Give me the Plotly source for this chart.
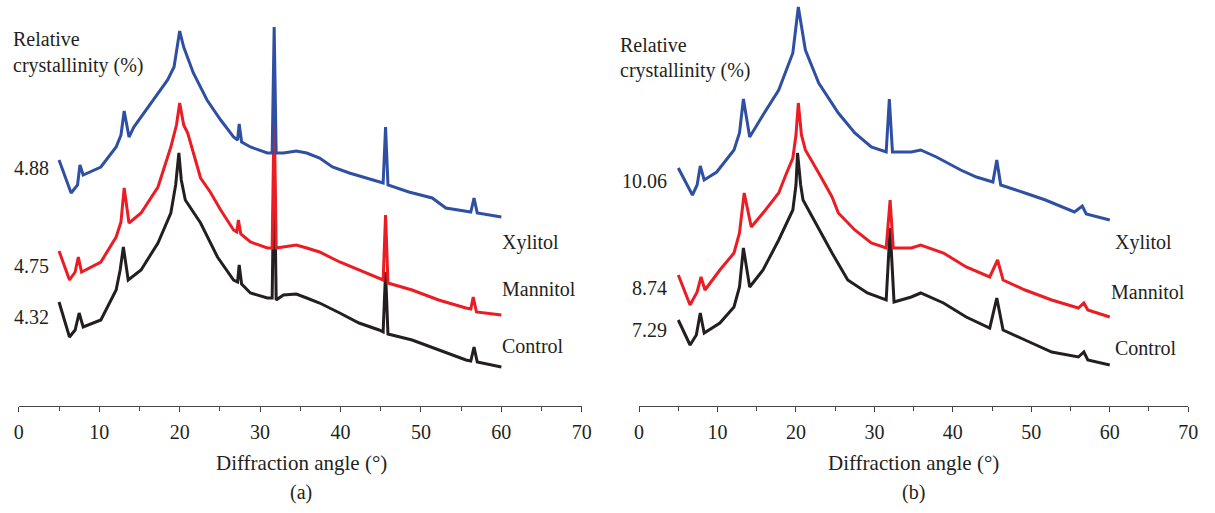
import plotly.graph_objects as go

# ---------------- Data (diffraction angle in degrees, intensity in a.u.) ----------------
# Panel (a)
a_xyl_angle = [5.0, 6.5, 7.3, 7.6, 8.0, 10.2, 12.1, 12.7, 13.1, 13.7, 14.3, 16.4, 18.5, 19.3, 20.0, 20.5,
               21.7, 23.4, 25.1, 26.7, 27.2, 27.4, 27.7, 28.8, 30.9, 31.5, 31.75, 32.0, 32.9, 34.5, 35.8, 37.4,
               39.0, 41.1, 43.2, 44.8, 45.3, 45.6, 45.9, 48.5, 51.4, 53.1, 56.2, 56.6, 57.0, 60.0]
a_xyl_int = [246, 213, 221, 241, 231, 239, 259, 271, 295, 269, 279, 303, 326, 339, 375, 359,
             333, 306, 286, 269, 266, 282, 264, 259, 253, 253, 379, 253, 253, 255, 253, 248,
             239, 233, 228, 224, 223, 279, 221, 214, 208, 198, 194, 208, 193, 189]

a_man_angle = [5.0, 6.3, 7.0, 7.4, 7.8, 10.2, 12.1, 12.7, 13.1, 13.7, 15.2, 17.3, 18.9, 19.6, 20.0, 20.5,
               21.0, 22.6, 23.8, 25.1, 26.7, 27.1, 27.3, 27.6, 28.8, 30.9, 31.5, 31.75, 32.0, 32.9, 34.5, 35.8,
               37.4, 39.9, 42.3, 44.8, 45.3, 45.6, 45.9, 48.9, 52.2, 55.6, 56.2, 56.5, 56.9, 60.0]
a_man_int = [155, 126, 134, 149, 134, 144, 169, 184, 218, 183, 193, 219, 259, 281, 303, 281,
             273, 228, 214, 196, 176, 174, 186, 172, 164, 158, 158, 298, 158, 159, 161, 158,
             154, 144, 136, 128, 126, 191, 123, 116, 106, 98, 97, 109, 94, 91]

a_con_angle = [5.0, 6.3, 7.0, 7.5, 8.0, 10.2, 12.1, 12.6, 13.0, 13.6, 15.2, 17.3, 18.9, 19.5, 19.9, 20.2,
               20.7, 22.6, 24.7, 26.7, 27.2, 27.4, 27.7, 28.8, 30.9, 31.5, 31.75, 32.0, 32.9, 34.5, 35.8, 37.4,
               39.9, 42.3, 44.8, 45.3, 45.6, 45.9, 48.9, 52.2, 55.6, 56.2, 56.6, 57.0, 60.0]
a_con_int = [104, 69, 76, 93, 79, 86, 116, 136, 159, 126, 136, 163, 193, 221, 253, 226,
             206, 183, 149, 126, 124, 141, 122, 113, 108, 108, 256, 106, 111, 112, 108, 103,
             93, 83, 76, 74, 134, 72, 66, 56, 46, 45, 59, 44, 39]

# Panel (b)
b_xyl_angle = [5.0, 6.8, 7.4, 7.8, 8.3, 9.9, 12.1, 12.8, 13.3, 14.1, 15.8, 17.8, 19.6, 20.3, 21.2, 22.9,
               25.4, 27.5, 29.6, 31.5, 31.9, 32.3, 34.7, 35.9, 37.9, 41.0, 43.0, 45.1, 45.6, 46.1,
               49.2, 51.8, 55.5, 56.5, 57.0, 60.0]
b_xyl_int = [238, 211, 221, 240, 226, 234, 256, 273, 307, 269, 291, 316, 353, 399, 356, 323,
             293, 273, 259, 254, 307, 254, 254, 256, 249, 236, 229, 224, 246, 221,
             213, 206, 194, 200, 192, 186]

b_man_angle = [5.0, 6.5, 7.4, 7.9, 8.4, 10.3, 12.1, 12.8, 13.4, 14.3, 15.8, 17.8, 18.7, 19.6, 20.0, 20.3,
               20.7, 21.2, 22.9, 24.6, 25.4, 27.5, 29.6, 31.5, 32.0, 32.4, 34.7, 35.9, 38.8, 41.7,
               44.7, 45.7, 46.4, 49.2, 52.6, 56.0, 56.7, 57.2, 60.0]
b_man_int = [131, 101, 114, 129, 116, 136, 153, 173, 213, 179, 193, 213, 231, 248, 271, 303,
             271, 256, 233, 209, 193, 176, 163, 158, 206, 158, 158, 161, 153, 139,
             129, 146, 126, 116, 106, 98, 103, 96, 89]

b_con_angle = [5.0, 6.5, 7.3, 7.8, 8.3, 10.3, 12.1, 12.8, 13.3, 14.1, 15.8, 17.8, 19.6, 20.0, 20.2, 20.6,
               20.9, 22.5, 24.6, 26.6, 29.1, 31.5, 32.0, 32.5, 34.7, 35.9, 38.8, 41.7, 44.7, 45.6,
               46.4, 49.2, 52.6, 56.0, 56.7, 57.2, 60.0]
b_con_int = [86, 61, 71, 93, 73, 83, 99, 119, 158, 119, 136, 166, 196, 221, 253, 221,
             206, 183, 153, 126, 113, 106, 178, 104, 109, 113, 103, 89, 78, 108,
             76, 66, 54, 49, 54, 46, 41]

series_names = ["Xylitol", "Mannitol", "Control"]
crystallinity_a = ["4.88", "4.75", "4.32"]
crystallinity_b = ["10.06", "8.74", "7.29"]
x_ticks = [0, 10, 20, 30, 40, 50, 60, 70]
panel_labels = ["(a)", "(b)"]

# ---------------- Styling ----------------
W, H = 1215, 513
COL = {"Xylitol": "#2F4FA2", "Mannitol": "#EC1C24", "Control": "#231F20"}
FONT = "Liberation Serif, Times New Roman, serif"
TXT = "#231F20"

fig = go.Figure()

panel_a = [(a_xyl_angle, a_xyl_int, "Xylitol"), (a_man_angle, a_man_int, "Mannitol"),
           (a_con_angle, a_con_int, "Control")]
panel_b = [(b_xyl_angle, b_xyl_int, "Xylitol"), (b_man_angle, b_man_int, "Mannitol"),
           (b_con_angle, b_con_int, "Control")]

for ang, inten, name in reversed(panel_a):
    fig.add_trace(go.Scatter(x=ang, y=inten, mode="lines", name=name,
                             line=dict(color=COL[name], width=3),
                             xaxis="x", yaxis="y", showlegend=False))
for ang, inten, name in reversed(panel_b):
    fig.add_trace(go.Scatter(x=ang, y=inten, mode="lines", name=name,
                             line=dict(color=COL[name], width=3),
                             xaxis="x2", yaxis="y2", showlegend=False))

axis_common = dict(range=[0, 70], tickvals=x_ticks, ticktext=[str(t) for t in x_ticks],
                   showline=True, linecolor="#444", linewidth=1.2, ticks="outside",
                   ticklen=5, tickwidth=1.2, tickcolor="#444", ticklabelstandoff=3,
                   minor=dict(dtick=5, ticks="outside", ticklen=4, tickwidth=1.2, tickcolor="#444"),
                   showgrid=False, zeroline=False,
                   tickfont=dict(family=FONT, size=20, color=TXT), fixedrange=True)

ydom = [1 - 406 / H, 1]
fig.update_layout(
    width=W, height=H, margin=dict(l=0, r=0, t=0, b=0),
    paper_bgcolor="white", plot_bgcolor="white",
    xaxis=dict(domain=[14 / W, 584 / W], anchor="y", **axis_common),
    xaxis2=dict(domain=[642 / W, 1198 / W], anchor="y2", **axis_common),
    yaxis=dict(domain=ydom, range=[0, 406], visible=False, fixedrange=True),
    yaxis2=dict(domain=ydom, range=[0, 406], visible=False, fixedrange=True, anchor="x2"),
)


def ann(text, px, py, anchor="left", size=20):
    fig.add_annotation(text=text, x=px / W, y=1 - py / H, xref="paper", yref="paper",
                       xanchor=anchor, yanchor="middle", showarrow=False, borderpad=0,
                       font=dict(family=FONT, size=size, color=TXT), align="left")


# Panel (a) texts
ann("Relative", 7, 39)
ann("crystallinity (%)", 7, 65)
for t, py in zip(crystallinity_a, [168, 266, 317]):
    ann(t, 8, py)
for t, py in zip(series_names, [243, 289, 346]):
    ann(t, 502, py)
ann("Diffraction angle (°)", 300, 463, anchor="center", size=21)
ann(panel_labels[0], 300, 492, anchor="center")

# Panel (b) texts
ann("Relative", 622, 45)
ann("crystallinity (%)", 622, 71)
for t, py in zip(crystallinity_b, [181, 288, 330]):
    ann(t, 671, py, anchor="right")
for t, py in zip(series_names, [243, 292, 348]):
    ann(t, 1123 if t != "Mannitol" else 1119, py)
ann("Diffraction angle (°)", 920, 463, anchor="center", size=21)
ann(panel_labels[1], 920, 492, anchor="center")

fig.write_html("out.html")
